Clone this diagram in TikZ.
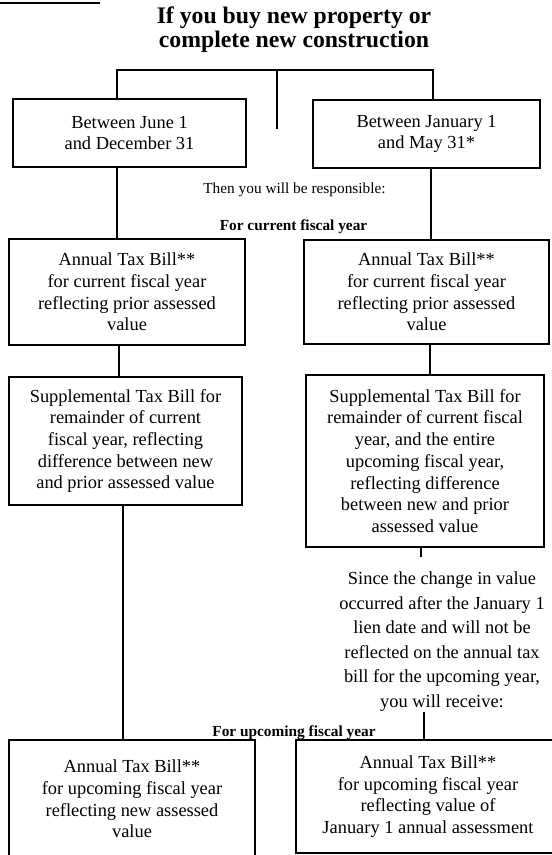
\documentclass[tikz,border=0pt]{standalone}
\usepackage{fontspec}
\setmainfont{Liberation Serif}
\usepackage{tikz}

\newcommand{\titlefont}{\fontsize{17.8}{18}\selectfont\bfseries}
\newcommand{\boxfont}{\fontsize{13.8}{16.3}\selectfont}
\newcommand{\notefont}{\fontsize{11.5}{13}\selectfont}
\newcommand{\sincefont}{\fontsize{13.8}{18.45}\selectfont}

\begin{document}
\begin{tikzpicture}[x=0.75pt, y=-0.75pt, line width=1.3pt,
  taxbox/.style={draw, align=center, inner sep=0pt, font=\boxfont},
  headnote/.style={align=center, inner sep=0pt, font=\notefont}]
\useasboundingbox (0,0) rectangle (551,855);

% Heading
\draw[line width=1pt] (0,3) -- (100,3);
\node[align=center, inner sep=0pt, font=\titlefont] (title) at (294,30) {If you buy new property or\\complete new construction};

% When the change happens
\node[taxbox, minimum width=174.75pt, minimum height=51pt] (b1) at (129.5,133) {Between June 1\\and December 31};
\node[taxbox, minimum width=170.25pt, minimum height=51pt] (b2) at (426.5,134) {Between January 1\\and May 31*};

\node[headnote] (resp) at (294.5,190) {Then you will be responsible:};
\node[headnote, font=\notefont\bfseries] (cur) at (293.5,227) {For current fiscal year};

% Current fiscal year bills
\node[taxbox, minimum width=177pt, minimum height=79.5pt] (b3) at (127,292) {Annual Tax Bill**\\for current fiscal year\\reflecting prior assessed\\value};
\node[taxbox, minimum width=183.75pt, minimum height=78pt] (b4) at (426.5,292) {Annual Tax Bill**\\for current fiscal year\\reflecting prior assessed\\value};

\node[taxbox, minimum width=174.75pt, minimum height=96pt] (b5) at (125.5,441) {Supplemental Tax Bill for\\remainder of current\\fiscal year, reflecting\\difference between new\\and prior assessed value};
\node[taxbox, minimum width=178.5pt, minimum height=129pt] (b6) at (425,461) {Supplemental Tax Bill for\\remainder of current fiscal\\year, and the entire\\upcoming fiscal year,\\reflecting difference\\between new and prior\\assessed value};

\node[align=center, inner sep=0pt, font=\sincefont] (since) at (442,641.5) {Since the change in value\\occurred after the January 1\\lien date and will not be\\reflected on the annual tax\\bill for the upcoming year,\\you will receive:};

\node[headnote, font=\notefont\bfseries] (upc) at (294,733) {For upcoming fiscal year};

% Upcoming fiscal year bills
\node[taxbox, minimum width=184.5pt, minimum height=88.5pt] (b7) at (132,799) {Annual Tax Bill**\\for upcoming fiscal year\\reflecting new assessed\\value};
\node[taxbox, minimum width=198pt, minimum height=84.75pt] (b8) at (428,796.5) {Annual Tax Bill**\\for upcoming fiscal year\\reflecting value of\\January 1 annual assessment};

% Connectors
\coordinate (jl) at (117,70);
\coordinate (jr) at (433,70);
\coordinate (jm) at (277,70);
\coordinate (jmend) at (277,129);
\draw (b1.north -| jl) -- (jl) -- (jr) -- (b2.north -| jr);
\draw (jm) -- (jmend);
\draw (b1.south -| jl) -- (b3.north -| jl);
\draw (b2.south -| 431,0) -- (b4.north -| 431,0);
\draw (b3.south -| 119,0) -- (b5.north -| 119,0);
\draw (b4.south -| 430,0) -- (b6.north -| 430,0);
\draw (b5.south -| 123,0) -- (b7.north -| 123,0);
\coordinate (tick) at (421,557);
\draw (b6.south -| tick) -- (tick);
\coordinate (recv) at (424,712);
\draw (recv) -- (b8.north -| recv);
\end{tikzpicture}
\end{document}
